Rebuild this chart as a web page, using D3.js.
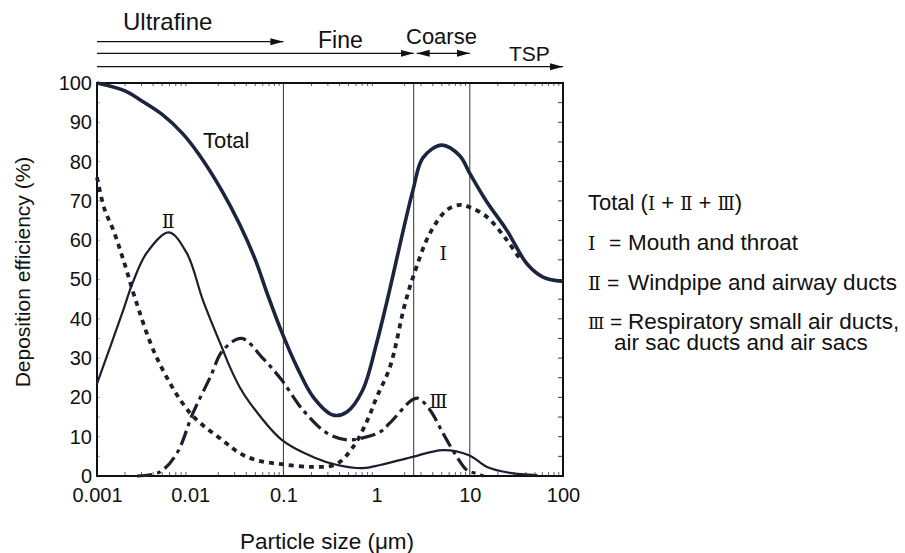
<!DOCTYPE html>
<html>
<head>
<meta charset="utf-8">
<script src="https://cdn.jsdelivr.net/npm/d3@7"></script>
<style>
body { margin: 0; background: #fff; }
text { font-family: "Liberation Sans", Arial, sans-serif; fill: #111; }
.num { font-family: "DejaVu Serif", "Noto Sans CJK JP", serif; }
</style>
</head>
<body>
<svg id="chart" width="905" height="553"></svg>
<script>
// particle size (um) and deposition efficiency (%)
var totalSize = [0.001, 0.002, 0.003, 0.005, 0.0084, 0.0127, 0.022, 0.034, 0.05, 0.068, 0.096, 0.14, 0.21, 0.34, 0.48, 0.71, 1.0, 1.3, 2.46, 3.15, 5.0, 7.8, 10, 15, 25, 41, 61, 100];
var totalEff  = [100, 98, 95.5, 92, 87, 81.5, 72.5, 64, 55, 46, 36.6, 27.7, 20, 15.5, 16.3, 21.9, 33.8, 44.7, 72.8, 81, 84.2, 81.5, 77, 70, 62.5, 54, 50.6, 49.5];

var iSize = [0.001, 0.0012, 0.0015, 0.0018, 0.0021, 0.0025, 0.0044, 0.01, 0.0225, 0.034, 0.052, 0.096, 0.21, 0.37, 0.56, 0.79, 1.0, 1.39, 2.0, 2.46, 3.74, 5.7, 7.85, 10, 15.3, 25, 35];
var iEff  = [76, 68, 62.5, 57, 52, 46, 30, 16, 9, 5.8, 4, 3, 2.3, 3, 7.4, 14, 20, 27.7, 43.5, 50.6, 61.8, 67.7, 69, 68.4, 65.9, 60, 55];

var iiSize = [0.001, 0.0019, 0.0024, 0.0034, 0.0059, 0.0092, 0.0137, 0.0225, 0.0267, 0.034, 0.044, 0.096, 0.21, 0.38, 0.71, 1.09, 2.38, 5.15, 9.8, 15.3, 27, 53];
var iiEff  = [23.5, 42, 49, 56.7, 62, 56.7, 44.7, 32, 27.7, 22.6, 18.5, 9.2, 4.8, 2.8, 2, 2.8, 4.8, 6.6, 5.3, 2.3, 0.8, 0.2];

var iiiSize = [0.0027, 0.0047, 0.0072, 0.0107, 0.0163, 0.0225, 0.0357, 0.06, 0.096, 0.162, 0.29, 0.48, 0.71, 1.09, 1.39, 2.38, 2.78, 3.74, 5.15, 7.3, 9.3, 11.9, 14];
var iiiEff  = [0, 1, 5.8, 16, 25, 32, 35, 30, 24.4, 16.8, 11, 9.2, 9.7, 11.2, 13.5, 19.3, 19.8, 16.8, 10.9, 4.8, 1.5, 0.6, 0];

var xTicks = [0.001, 0.01, 0.1, 1, 10, 100];
var xTickLabels = ["0.001", "0.01", "0.1", "1", "10", "100"];
var yTicks = [0, 10, 20, 30, 40, 50, 60, 70, 80, 90, 100];
var cutSizes = [0.1, 2.5, 10];             // vertical separators
var classNames = ["Ultrafine", "Fine", "Coarse", "TSP"];

var legendNums = ["\u2160", "\u2161", "\u2162"];
var legendText = ["Mouth and throat", "Windpipe and airway ducts", "Respiratory small air ducts,"];

var svg = d3.select("#chart");
var pl = 97, pr = 563, pt = 83, pb = 476;   // plot box

var x = d3.scaleLog().domain([0.001, 100]).range([pl, pr]);
var y = d3.scaleLinear().domain([0, 100]).range([pb, pt]);

function zip(a, b) { return a.map(function(v, i) { return [v, b[i]]; }); }

// minor ticks
var minor = [];
for (var e = -3; e < 2; e++) for (var m = 2; m < 10; m++) minor.push(m * Math.pow(10, e));

svg.append("g").selectAll("line").data(minor).enter().append("line")
    .attr("x1", function(d) { return x(d); }).attr("x2", function(d) { return x(d); })
    .attr("y1", pb).attr("y2", pb - 4)
    .attr("stroke", "#567").attr("stroke-width", 1);
svg.append("g").selectAll("line").data(minor).enter().append("line")
    .attr("x1", function(d) { return x(d); }).attr("x2", function(d) { return x(d); })
    .attr("y1", pt).attr("y2", pt + 3)
    .attr("stroke", "#567").attr("stroke-width", 1);

var yMinor = d3.range(5, 100, 5);
svg.append("g").selectAll("line").data(yMinor).enter().append("line")
    .attr("x1", pr).attr("x2", pr - 5)
    .attr("y1", function(d) { return y(d); }).attr("y2", function(d) { return y(d); })
    .attr("stroke", "#345").attr("stroke-width", 1);
svg.append("g").selectAll("line").data(yMinor).enter().append("line")
    .attr("x1", pl).attr("x2", pl + 3)
    .attr("y1", function(d) { return y(d); }).attr("y2", function(d) { return y(d); })
    .attr("stroke", "#9ab").attr("stroke-width", 1);

// axes
var yAxis = svg.append("g")
    .attr("transform", "translate(" + pl + ",0)")
    .call(d3.axisLeft(y).tickValues(yTicks).tickSize(0).tickPadding(5));
yAxis.select(".domain").remove();
yAxis.selectAll("text").style("font-size", "20px").attr("fill", "#111");

var xAxis = svg.append("g")
    .attr("transform", "translate(0," + pb + ")")
    .call(d3.axisBottom(x).tickValues(xTicks).tickSize(0).tickPadding(12)
        .tickFormat(function(d, i) { return xTickLabels[i]; }));
xAxis.select(".domain").remove();
xAxis.selectAll("text").style("font-size", "20px").attr("fill", "#111");

// vertical separators
svg.append("g").selectAll("line").data(cutSizes).enter().append("line")
    .attr("x1", function(d) { return x(d); }).attr("x2", function(d) { return x(d); })
    .attr("y1", pt).attr("y2", pb)
    .attr("stroke", "#333").attr("stroke-width", 1);

// frame
svg.append("rect")
    .attr("x", pl).attr("y", pt)
    .attr("width", pr - pl).attr("height", pb - pt)
    .attr("fill", "none").attr("stroke", "#111").attr("stroke-width", 2);

// curves
var line = d3.line()
    .x(function(d) { return x(d[0]); })
    .y(function(d) { return y(d[1]); })
    .curve(d3.curveCatmullRom.alpha(0.5));

svg.append("path").datum(zip(iiSize, iiEff)).attr("d", line)
    .attr("fill", "none").attr("stroke", "#1b1f2e").attr("stroke-width", 2.2);
svg.append("path").datum(zip(iiiSize, iiiEff)).attr("d", line)
    .attr("fill", "none").attr("stroke", "#1b1f2e").attr("stroke-width", 3.2)
    .attr("stroke-dasharray", "15,5,4,5");
svg.append("path").datum(zip(iSize, iEff)).attr("d", line)
    .attr("fill", "none").attr("stroke", "#1b1f2e").attr("stroke-width", 3.8)
    .attr("stroke-dasharray", "5,5");
svg.append("path").datum(zip(totalSize, totalEff)).attr("d", line)
    .attr("fill", "none").attr("stroke", "#1d2440").attr("stroke-width", 3.6);

// curve labels
svg.append("text").attr("x", 203).attr("y", 148).style("font-size", "22px").text("Total");
svg.append("text").attr("class", "num").attr("x", x(0.0058)).attr("y", 228)
    .attr("text-anchor", "middle").style("font-size", "19px").text(legendNums[1]);
svg.append("text").attr("class", "num").attr("x", x(5.2)).attr("y", 260)
    .attr("text-anchor", "middle").style("font-size", "19px").text(legendNums[0]);
svg.append("text").attr("class", "num").attr("x", x(4.6)).attr("y", 408)
    .attr("text-anchor", "middle").style("font-size", "19px").text(legendNums[2]);

// size class arrows on top
var defs = svg.append("defs");
function marker(id, path, refX) {
    defs.append("marker").attr("id", id)
        .attr("viewBox", "0 0 13 8").attr("refX", refX).attr("refY", 4)
        .attr("markerWidth", 13).attr("markerHeight", 8)
        .attr("markerUnits", "userSpaceOnUse").attr("orient", "0")
        .append("path").attr("d", path).attr("fill", "#111");
}
marker("ahR", "M0,0.5 L13,4 L0,7.5 Z", 13);
marker("ahL", "M13,0.5 L0,4 L13,7.5 Z", 0);

var arrows = [
    { x1: 0.001, x2: 0.1, y: 41.7, start: false },
    { x1: 0.001, x2: 2.5, y: 53.3, start: false },
    { x1: 2.5, x2: 10, y: 53.3, start: true },
    { x1: 0.001, x2: 100, y: 66.7, start: false }
];
arrows.forEach(function(a) {
    var l = svg.append("line")
        .attr("x1", x(a.x1) + (a.start ? 3 : 0)).attr("x2", x(a.x2))
        .attr("y1", a.y).attr("y2", a.y)
        .attr("stroke", "#111").attr("stroke-width", 1.3)
        .attr("marker-end", "url(#ahR)");
    if (a.start) l.attr("marker-start", "url(#ahL)");
});

var classPos = [[123, 30], [318, 48], [406, 44], [509, 61]];
var classFont = [24, 23, 22, 21];
svg.append("g").selectAll("text").data(classNames).enter().append("text")
    .attr("x", function(d, i) { return classPos[i][0]; })
    .attr("y", function(d, i) { return classPos[i][1]; })
    .style("font-size", function(d, i) { return classFont[i] + "px"; })
    .text(function(d) { return d; });

// axis titles
svg.append("text")
    .attr("transform", "translate(30,272) rotate(-90)")
    .attr("text-anchor", "middle").style("font-size", "21px")
    .text("Deposition efficiency (%)");
svg.append("text")
    .attr("x", 327).attr("y", 549)
    .attr("text-anchor", "middle").style("font-size", "22.5px")
    .text("Particle size (\u03bcm)");

// legend
var lg = svg.append("g");
var t0 = lg.append("text").attr("x", 588).attr("y", 210).style("font-size", "22px");
t0.append("tspan").text("Total (");
legendNums.forEach(function(n, i) {
    if (i > 0) t0.append("tspan").text(" + ");
    t0.append("tspan").attr("class", "num").style("font-size", "18px").text(n);
});
t0.append("tspan").text(")");

var rowY = [250, 290, 329];
var eqX = [609, 607, 610];
legendNums.forEach(function(n, i) {
    lg.append("text").attr("class", "num").attr("x", 588).attr("y", rowY[i])
        .style("font-size", i == 2 ? "17px" : "19px").text(n);
    lg.append("text").attr("x", eqX[i]).attr("y", rowY[i])
        .style("font-size", "21px").text("=");
    lg.append("text").attr("x", 628).attr("y", rowY[i])
        .style("font-size", "22.5px").text(legendText[i]);
});
lg.append("text").attr("x", 614).attr("y", 350).style("font-size", "22.5px")
    .text("air sac ducts and air sacs");
</script>
</body>
</html>
